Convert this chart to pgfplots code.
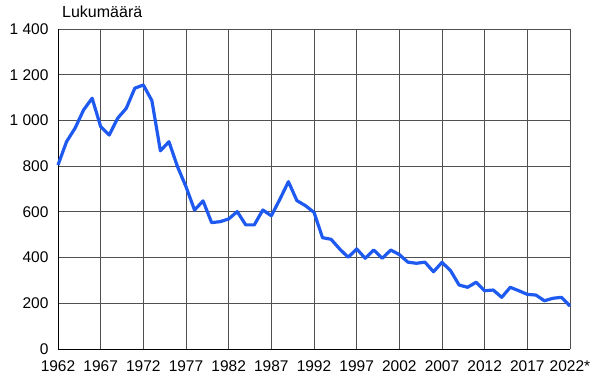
\documentclass[border=0pt]{standalone}
\usepackage{pgfplots}
\pgfplotsset{compat=1.18}
\usepackage{fontspec}
\setmainfont{Liberation Sans}
\definecolor{lineblue}{RGB}{30,90,240}
\definecolor{gridgray}{RGB}{80,80,80}
\begin{document}
\begin{tikzpicture}
\useasboundingbox (0,0) rectangle (597pt,386pt);
\begin{axis}[
  name=ax,
  at={(58pt,37pt)}, anchor=south west,
  scale only axis, width=512pt, height=320pt,
  xmin=1962, xmax=2022, ymin=0, ymax=1400,
  xtick={1962,1967,...,2022},
  xticklabels={1962,1967,1972,1977,1982,1987,1992,1997,2002,2007,2012,2017,2022*},
  ytick={0,200,...,1400},
  yticklabels={0,200,400,600,800,1 000,1 200,1 400},
  major tick length=0pt,
  grid=major,
  major grid style={gridgray, line width=0.9pt},
  axis x line*=bottom, axis y line*=left,
  axis line style={black, line width=1pt, -},
  ticklabel style={font=\fontsize{15.5}{18}\selectfont},
  xticklabel style={yshift=-8pt},
  yticklabel style={xshift=-6pt},
  clip=false,
]
\addplot[lineblue, line width=3.2pt, line join=round] coordinates {
(1962,805)(1963,907)(1964,966)(1965,1046)(1966,1097)(1967,973)(1968,936)(1969,1010)
(1970,1053)(1971,1141)(1972,1155)(1973,1087)(1974,867)(1975,907)(1976,798)(1977,710)
(1978,608)(1979,648)(1980,553)(1981,557)(1982,569)(1983,601)(1984,543)(1985,543)
(1986,608)(1987,583)(1988,655)(1989,732)(1990,649)(1991,627)(1992,598)(1993,487)
(1994,480)(1995,438)(1996,401)(1997,438)(1998,397)(1999,433)(2000,397)(2001,433)
(2002,413)(2003,380)(2004,375)(2005,380)(2006,338)(2007,379)(2008,343)(2009,280)
(2010,270)(2011,292)(2012,255)(2013,258)(2014,226)(2015,270)(2016,255)(2017,239)
(2018,236)(2019,211)(2020,222)(2021,226)(2022,188)
};
\end{axis}
\node[anchor=base west, font=\fontsize{16}{18}\selectfont, inner sep=0pt] at ([xshift=4pt,yshift=11pt]ax.north west) {Lukumäärä};
\end{tikzpicture}
\end{document}
